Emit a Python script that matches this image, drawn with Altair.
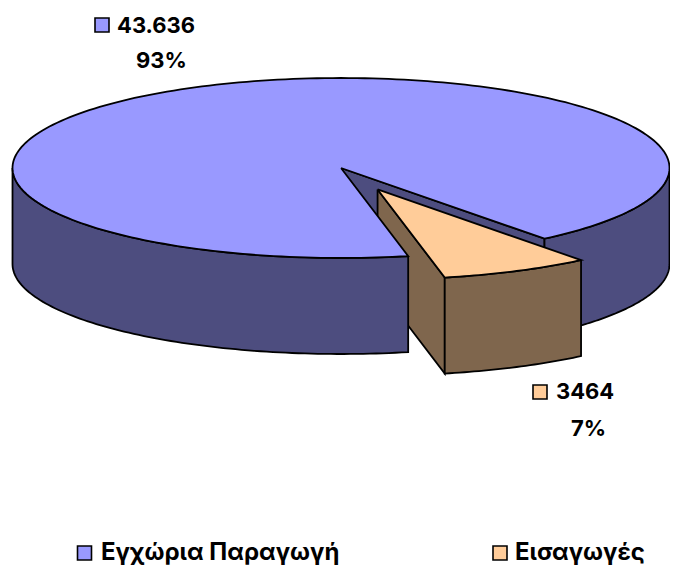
import math
import altair as alt
import pandas as pd

categories = ["Εγχώρια Παραγωγή", "Εισαγωγές"]
values = [43636, 3464]
value_labels = ["43.636", "3464"]
percent_labels = ["93%", "7%"]
top_colors = ["#9999FF", "#FFCC99"]
side_colors = ["#4D4D7F", "#7F664D"]

W, H = 662, 558
CX, CY, RX, RY = 333.0, 160.0, 328.5, 90.0
DEPTH = 96.0 / RY
EXPLODE = 0.263
START = 78.2

span = 360.0 * values[1] / sum(values)
a_end = START            # main slice starts here (clockwise from east)
a_start = START - span   # main slice ends here; the small slice fills the gap
mid = math.radians((a_start + a_end) / 2)
ox, oy = EXPLODE * math.cos(mid), EXPLODE * math.sin(mid)


def rim(a, b, n=90, dx=0.0, dy=0.0):
    return [(math.cos(math.radians(a + (b - a) * i / n)) + dx,
             math.sin(math.radians(a + (b - a) * i / n)) + dy) for i in range(n + 1)]


xs = alt.Scale(domain=[-CX / RX, (W - CX) / RX], range=[0, W])
ys = alt.Scale(domain=[-CY / RY, (H - CY) / RY], range=[0, H])


def poly(points, fill):
    pts = list(points) + [points[0]]
    df = pd.DataFrame({"u": [p[0] for p in pts], "v": [p[1] for p in pts], "i": range(len(pts))})
    return alt.Chart(df).mark_line(
        fill=fill, stroke="black", strokeWidth=1.8, strokeJoin="miter", strokeMiterLimit=10
    ).encode(
        x=alt.X("u:Q", scale=xs, axis=None),
        y=alt.Y("v:Q", scale=ys, axis=None),
        order="i:O",
    )


def down(points):
    return [(u, v + DEPTH) for u, v in reversed(points)]


dark, brown = side_colors
e1 = rim(a_start, a_start, 1)[0]
inner = [(0, 0), e1, (e1[0], e1[1] + DEPTH), (0, DEPTH)]
right_wall_top = rim(a_start, 0)
right_wall = right_wall_top + down(right_wall_top)
left_wall_top = rim(a_end, 180)
left_wall = left_wall_top + down(left_wall_top)
small_rim = rim(a_start, a_end, 30, ox, oy)
small_front = small_rim + down(small_rim)
p0 = (ox, oy)
pe = small_rim[-1]
small_side = [p0, pe, (pe[0], pe[1] + DEPTH), (p0[0], p0[1] + DEPTH)]
small_top = [p0] + small_rim
main_top = [(0, 0)] + rim(a_end, a_start + 360, 240)

shapes = [
    poly(inner, dark),
    poly(right_wall, dark),
    poly(small_side, brown),
    poly(small_front, brown),
    poly(small_top, top_colors[1]),
    poly(left_wall, dark),
    poly(main_top, top_colors[0]),
]


def text(s, x, y, size=22, align="left"):
    return alt.Chart(pd.DataFrame({"t": [s]})).mark_text(
        font="Inter", fontWeight="bold", fontSize=size, align=align,
        baseline="alphabetic", color="black"
    ).encode(x=alt.value(x - 8), y=alt.value(y - 8), text="t:N")


def swatch(x, y, fill, side=14):
    return alt.Chart(pd.DataFrame({"a": [0]})).mark_square(
        size=side * side, fill=fill, stroke="black", strokeWidth=1.6, opacity=1
    ).encode(x=alt.value(x - 8), y=alt.value(y - 8))


labels = [
    swatch(102, 25, top_colors[0]),
    text(value_labels[0], 117, 33),
    text(percent_labels[0], 136, 68),
    swatch(540, 392, top_colors[1]),
    text(value_labels[1], 556, 399),
    text(percent_labels[1], 571, 436),
    swatch(84.5, 553, top_colors[0]),
    text(categories[0], 101, 560, size=24),
    swatch(500, 553, top_colors[1]),
    text(categories[1], 515, 560, size=24),
]

chart = alt.layer(*shapes, *labels).properties(
    width=W, height=H, padding=0,
    autosize=alt.AutoSizeParams(type="none"),
).configure_view(stroke=None)

chart.save("out.html", embed_options={"renderer": "svg", "actions": False})
